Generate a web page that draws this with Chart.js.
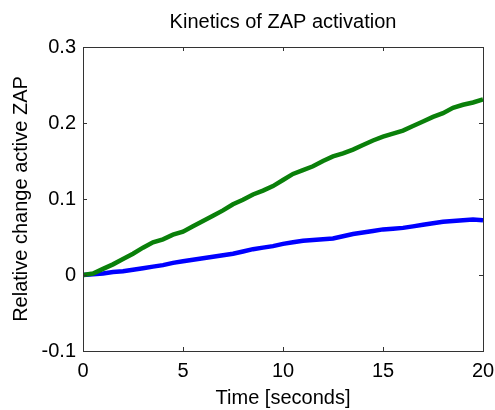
<!DOCTYPE html>
<html>
<head>
<meta charset="utf-8">
<script src="https://cdn.jsdelivr.net/npm/chart.js@4"></script>
<style>
  html, body { margin: 0; padding: 0; background: #fff; }
  #wrap { width: 495px; height: 410px; }
</style>
</head>
<body>
<div id="wrap"><canvas id="chart" width="495" height="410"></canvas></div>
<script>
// ---- data ----
var tiempos = [0, 0.5, 1, 1.5, 2, 2.5, 3, 3.5, 4, 4.5, 5, 5.5, 6, 6.5, 7, 7.5, 8, 8.5, 9, 9.5, 10,
               10.5, 11, 11.5, 12, 12.5, 13, 13.5, 14, 14.5, 15, 15.5, 16, 16.5, 17, 17.5, 18, 18.5, 19, 19.5, 20];
var verde = [0, 0.002, 0.008, 0.014, 0.021, 0.028, 0.036, 0.043, 0.047, 0.053, 0.057, 0.064, 0.071, 0.078,
             0.085, 0.093, 0.099, 0.106, 0.111, 0.117, 0.125, 0.133, 0.138, 0.143, 0.150, 0.156, 0.160, 0.165,
             0.171, 0.177, 0.182, 0.186, 0.190, 0.196, 0.202, 0.208, 0.213, 0.220, 0.224, 0.227, 0.231];
var azul = [0, 0.001, 0.002, 0.004, 0.005, 0.007, 0.009, 0.011, 0.013, 0.016, 0.018, 0.020, 0.022, 0.024,
            0.026, 0.028, 0.031, 0.034, 0.036, 0.038, 0.041, 0.043, 0.045, 0.046, 0.047, 0.048, 0.051, 0.054,
            0.056, 0.058, 0.060, 0.061, 0.062, 0.064, 0.066, 0.068, 0.070, 0.071, 0.072, 0.073, 0.072];
var xTicks = [0, 5, 10, 15, 20];
var yTicks = [-0.1, 0, 0.1, 0.2, 0.3];

function puntos(ys) {
  return tiempos.map(function(t, i) { return { x: t, y: ys[i] }; });
}

var FONT = '"Liberation Sans", Arial, Helvetica, sans-serif';

// caja tipo MATLAB con ticks hacia dentro en los cuatro lados
var cajaPlugin = {
  id: 'caja',
  afterDatasetsDraw: function(chart) {
    var ctx = chart.ctx, a = chart.chartArea;
    var sx = chart.scales.x, sy = chart.scales.y;
    var L = 4;
    ctx.save();
    ctx.strokeStyle = '#333';
    ctx.lineWidth = 1;
    ctx.beginPath();
    xTicks.forEach(function(v) {
      var px = Math.round(sx.getPixelForValue(v)) + 0.5;
      ctx.moveTo(px, a.bottom); ctx.lineTo(px, a.bottom - L);
      ctx.moveTo(px, a.top); ctx.lineTo(px, a.top + L);
    });
    yTicks.forEach(function(v) {
      var py = Math.round(sy.getPixelForValue(v)) + 0.5;
      ctx.moveTo(a.left, py); ctx.lineTo(a.left + L, py);
      ctx.moveTo(a.right, py); ctx.lineTo(a.right - L, py);
    });
    ctx.stroke();
    ctx.strokeRect(Math.round(a.left) + 0.5, Math.round(a.top) + 0.5,
                   Math.round(a.right - a.left), Math.round(a.bottom - a.top));
    ctx.restore();
  }
};

new Chart(document.getElementById('chart').getContext('2d'), {
  type: 'line',
  data: {
    datasets: [
      { label: 'Verde', data: puntos(verde), borderColor: '#0a800a', borderWidth: 4.5,
        pointRadius: 0, fill: false, tension: 0 },
      { label: 'Azul', data: puntos(azul), borderColor: '#0000ff', borderWidth: 4.5,
        pointRadius: 0, fill: false, tension: 0 }
    ]
  },
  options: {
    responsive: false,
    animation: false,
    layout: { padding: { left: 0, right: 12, top: 0, bottom: 0 } },
    plugins: {
      legend: { display: false },
      tooltip: { enabled: false },
      title: {
        display: true,
        fullSize: false,
        text: 'Kinetics of ZAP activation',
        color: '#000',
        font: { family: FONT, size: 20, weight: 'normal' },
        padding: { top: 10, bottom: 13 }
      }
    },
    scales: {
      x: {
        type: 'linear', min: 0, max: 20,
        afterBuildTicks: function(s) { s.ticks = xTicks.map(function(v) { return { value: v }; }); },
        afterFit: function(s) { s.height = 59; s.paddingLeft = 0; s.paddingRight = 0; },
        grid: { display: false, drawTicks: false },
        border: { display: false },
        ticks: { color: '#000', font: { family: FONT, size: 20 }, padding: 8, maxRotation: 0 },
        title: { display: true, text: 'Time [seconds]', color: '#000',
                 font: { family: FONT, size: 20 }, padding: { top: 0, bottom: 0 } }
      },
      y: {
        type: 'linear', min: -0.1, max: 0.3,
        afterBuildTicks: function(s) { s.ticks = yTicks.map(function(v) { return { value: v }; }); },
        afterFit: function(s) { s.width = 83; },
        grid: { display: false, drawTicks: false },
        border: { display: false },
        ticks: { color: '#000', font: { family: FONT, size: 20 }, padding: 7,
                 callback: function(v) { return String(Number(v.toFixed(1))); } },
        title: { display: true, text: 'Relative change active ZAP', color: '#000',
                 font: { family: FONT, size: 20 }, padding: { top: 9, bottom: 0 } }
      }
    }
  },
  plugins: [cajaPlugin]
});
</script>
</body>
</html>
